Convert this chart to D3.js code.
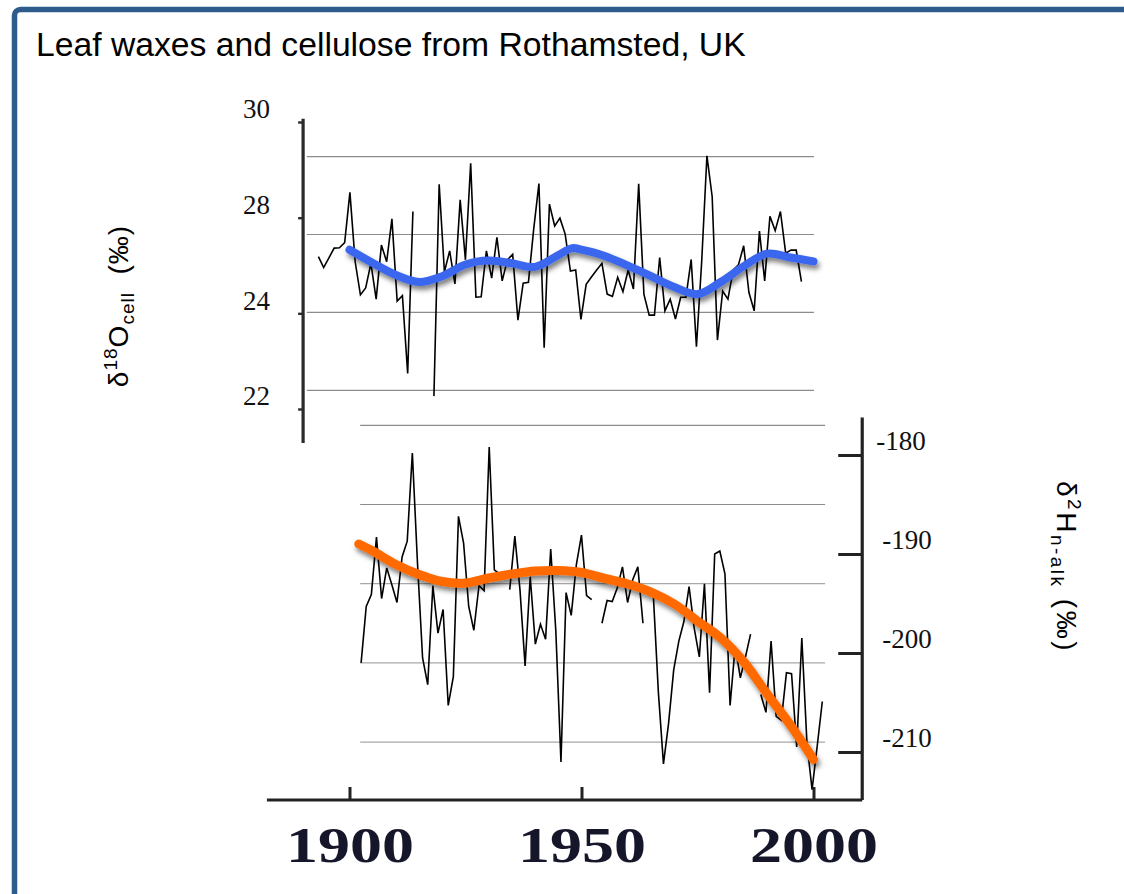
<!DOCTYPE html>
<html>
<head>
<meta charset="utf-8">
<script src="https://cdn.jsdelivr.net/npm/d3@7"></script>
<style>
  html, body { margin: 0; padding: 0; background: #fff; }
  svg { display: block; }
</style>
</head>
<body>
<svg id="chart" width="1124" height="894"></svg>
<script>
// ---- text ----
const titleText = "Leaf waxes and cellulose from Rothamsted, UK";

// ---- axes ----
const yearTicks = [1900, 1950, 2000];
const cellTickLabels = ["30", "28", "24", "22"];
const cellGridValues = [28, 26, 24, 22];
const alkTicks = [-180, -190, -200, -210];
const alkGridValues = [-177, -185, -193, -201, -209];

// ---- δ18O of cellulose (‰), one value per sample, null = no sample ----
const cellSpan = [1893.3, 1997.4];
const cellValues = [
  25.43, 25.15, 25.40, 25.65, 25.66, 25.79, 27.08, 25.30, 24.45, 24.63,
  25.26, 24.34, 25.73, 25.30, 26.40, 24.29, 24.43, 22.43, 26.59, null,
  null, null, 21.85, 27.29, 25.04, 25.58, 24.73, 26.89, 25.35, 27.83,
  24.39, 24.40, 25.58, 24.88, 25.93, 24.81, 25.35, 25.49, 23.80, 24.75,
  24.77, 26.13, 27.31, 23.09, 26.78, 26.22, 26.42, 26.01, 25.06, 25.09,
  23.82, 24.72, 24.91, 25.09, 25.26, 24.47, 24.41, 24.90, 24.53, 25.09,
  24.60, 27.30, 24.46, 23.93, 23.93, 25.41, 24.04, 24.34, 23.83, 24.39,
  24.39, 25.36, 23.12, 25.30, 28.02, 26.97, 23.29, 24.55, 24.34, 25.09,
  25.22, 25.71, 24.51, 24.04, 26.09, 24.81, 26.47, 26.10, 26.59, 25.52,
  25.60, 25.60, 24.79
];
// smoothed δ18O trend
const cellSmoothYears  = [1900, 1905, 1910, 1915, 1920, 1925, 1930, 1935, 1940, 1945, 1948,
                          1950, 1955, 1960, 1965, 1970, 1975, 1980, 1985, 1990, 1995, 2000];
const cellSmoothValues = [25.61, 25.27, 24.96, 24.78, 24.93, 25.23, 25.33, 25.26, 25.17, 25.47, 25.65,
                          25.61, 25.45, 25.20, 24.93, 24.65, 24.47, 24.78, 25.19, 25.51, 25.41, 25.31];

// ---- δ2H of n-alkanes (‰), one value per sample, null = no sample ----
const alkSpan = [1902.5, 2001.9];
const alkValues = [
  -201.0, -195.3, -194.1, -188.3, -194.5, -191.4, -193.1, -194.9, -190.3, -188.7,
  -179.8, -190.9, -200.5, -203.2, -193.2, -198.0, -195.6, -205.3, -202.4, -186.2,
  -188.9, -195.3, -197.7, -193.2, -193.7, -179.2, -191.6, -192.0, null, -193.6,
  -188.2, -193.6, -201.3, -192.3, -199.1, -197.1, -198.6, -189.5, -197.8, -211.0,
  -193.9, -196.2, -191.1, -188.1, -194.2, -194.6, null, -197.0, -194.7, -194.8,
  -193.4, -191.3, -194.9, -192.6, -191.3, -197.0, null, -193.9, -203.9, -211.2,
  -207.1, -201.7, -198.8, -196.8, -193.3, -197.5, -200.4, -193.0, -204.0, -190.0,
  -189.7, -192.0, -205.3, -199.3, -202.5, -200.4, -198.1, null, -204.2, -206.0,
  -198.8, -206.4, -206.8, -202.0, -202.1, -209.5, -198.5, -209.1, -213.8, -209.4,
  -204.9
];
// smoothed δ2H trend
const alkSmoothYears  = [1902, 1905, 1910, 1915, 1920, 1925, 1930, 1935, 1940, 1945, 1950,
                         1955, 1960, 1965, 1970, 1975, 1980, 1985, 1990, 1995, 2000];
const alkSmoothValues = [-188.99, -189.70, -191.06, -192.07, -192.78, -192.93, -192.42, -192.02, -191.72, -191.67, -191.87,
                         -192.47, -193.03, -193.84, -195.05, -196.77, -198.48, -200.91, -204.14, -207.27, -210.76];

// ---- layout extents (in data units) ----
const cellGridSpan = [1890.8, 2000.1];
const cellAxisYear = 1890;
const cellAxisExtent = [28.97, 20.65];
const alkGridSpan = [1902.3, 2002.5];
const timeAxisSpan = [1882.2, 2010.5];
const alkAxisExtent = [-176.2, -214.85];

// ---- scales ----
const x = d3.scaleLinear().domain([1900, 2000]).range([349.5, 813.5]);
const yCell = d3.scaleLinear().domain([28, 22]).range([156.6, 390.3]);
const yCellLabels = d3.scalePoint().domain(cellTickLabels).range([122, 409]);
const yAlk = d3.scaleLinear().domain([-180, -210]).range([455, 752]);
const xCell = d3.scaleLinear().domain([0, cellValues.length - 1]).range(cellSpan.map(x));
const xAlk = d3.scaleLinear().domain([0, alkValues.length - 1]).range(alkSpan.map(x));

const svg = d3.select("#chart");
const sans = "'Liberation Sans', Arial, sans-serif";
const serif = "'Liberation Serif', 'Times New Roman', serif";

const defs = svg.append("defs");
const sh = defs.append("filter").attr("id", "trendShadow")
  .attr("x", "-10%").attr("y", "-40%").attr("width", "120%").attr("height", "200%");
sh.append("feDropShadow").attr("dx", 2).attr("dy", 4).attr("stdDeviation", 2.8)
  .attr("flood-color", "#000").attr("flood-opacity", 0.5);
const soft = defs.append("filter").attr("id", "soft");
soft.append("feGaussianBlur").attr("stdDeviation", 0.6);

// ---- frame ----
svg.append("rect")
  .attr("x", 14.5).attr("y", 9.5).attr("width", 1200).attr("height", 1000)
  .attr("rx", 6).attr("ry", 6)
  .attr("fill", "none").attr("stroke", "#2d5b8c").attr("stroke-width", 5.5);

svg.append("text")
  .attr("x", 36).attr("y", 56)
  .attr("font-family", sans).attr("font-size", 33.7)
  .attr("fill", "#000")
  .text(titleText);

// ---- upper panel: δ18O cellulose ----
const gTop = svg.append("g");
gTop.selectAll("line.grid").data(cellGridValues).join("line")
  .attr("class", "grid")
  .attr("x1", x(cellGridSpan[0])).attr("x2", x(cellGridSpan[1]))
  .attr("y1", d => yCell(d)).attr("y2", d => yCell(d))
  .attr("stroke", "#8c8c8c").attr("stroke-width", 1.2);

// left axis with its own labels
const leftAxisX = x(cellAxisYear);
gTop.append("line")
  .attr("x1", leftAxisX).attr("x2", leftAxisX)
  .attr("y1", yCell(cellAxisExtent[0])).attr("y2", yCell(cellAxisExtent[1]))
  .attr("stroke", "#2a2a2a").attr("stroke-width", 3.2);
const leftAxis = d3.axisLeft(yCellLabels).tickSize(5).tickPadding(0);
const gLeft = gTop.append("g").attr("transform", `translate(${leftAxisX},0)`).call(leftAxis);
gLeft.select(".domain").remove();
gLeft.selectAll(".tick line").attr("stroke", "#2a2a2a").attr("stroke-width", 2.4);
gLeft.selectAll(".tick text")
  .attr("x", 270 - leftAxisX).attr("dy", "-0.15em")
  .attr("font-family", serif).attr("font-size", 27).attr("fill", "#111")
  .attr("text-anchor", "end");

const lineCell = d3.line()
  .defined(d => d != null)
  .x((d, i) => xCell(i))
  .y(d => yCell(d));
gTop.append("path")
  .datum(cellValues)
  .attr("d", lineCell)
  .attr("fill", "none").attr("stroke", "#000").attr("stroke-width", 1.6);

const cellTrend = d3.line()
  .curve(d3.curveCatmullRom.alpha(0.5))
  .x(d => x(d[0])).y(d => yCell(d[1]));
gTop.append("path")
  .datum(cellSmoothYears.map((yr, i) => [yr, cellSmoothValues[i]]))
  .attr("d", cellTrend)
  .attr("fill", "none").attr("stroke", "#3a66ee").attr("stroke-width", 8)
  .attr("stroke-linecap", "round").attr("stroke-linejoin", "round")
  .attr("filter", "url(#trendShadow)");

svg.append("text")
  .attr("transform", "translate(128,306) rotate(-90)")
  .attr("text-anchor", "middle")
  .attr("font-family", sans).attr("font-size", 28).attr("fill", "#000")
  .attr("letter-spacing", 1)
  .style("white-space", "pre")
  .call(t => {
    t.append("tspan").text("δ");
    t.append("tspan").attr("font-size", 19).attr("dy", -11).text("18");
    t.append("tspan").attr("dy", 11).text("O");
    t.append("tspan").attr("font-size", 19).attr("dy", 6).text("cell");
    t.append("tspan").attr("dy", -6).text("  (‰)");
  });

// ---- lower panel: δ2H n-alkanes ----
const gBot = svg.append("g");
gBot.selectAll("line.grid").data(alkGridValues).join("line")
  .attr("class", "grid")
  .attr("x1", x(alkGridSpan[0])).attr("x2", x(alkGridSpan[1]))
  .attr("y1", d => yAlk(d)).attr("y2", d => yAlk(d))
  .attr("stroke", (d, i) => i < 2 ? "#8c8c8c" : "#a8a8a8").attr("stroke-width", 1.2);

const lineAlk = d3.line()
  .defined(d => d != null)
  .x((d, i) => xAlk(i))
  .y(d => yAlk(d));
gBot.append("path")
  .datum(alkValues)
  .attr("d", lineAlk)
  .attr("fill", "none").attr("stroke", "#000").attr("stroke-width", 1.6);

const alkTrend = d3.line()
  .curve(d3.curveCatmullRom.alpha(0.5))
  .x(d => x(d[0])).y(d => yAlk(d[1]));
gBot.append("path")
  .datum(alkSmoothYears.map((yr, i) => [yr, alkSmoothValues[i]]))
  .attr("d", alkTrend)
  .attr("fill", "none").attr("stroke", "#ff6a00").attr("stroke-width", 9)
  .attr("stroke-linecap", "round").attr("stroke-linejoin", "round")
  .attr("filter", "url(#trendShadow)");

// right axis
const rightAxisX = x(timeAxisSpan[1]);
gBot.append("line")
  .attr("x1", rightAxisX).attr("x2", rightAxisX)
  .attr("y1", yAlk(alkAxisExtent[0])).attr("y2", yAlk(alkAxisExtent[1]))
  .attr("stroke", "#222").attr("stroke-width", 3.2);
const rightAxis = d3.axisRight(yAlk).tickValues(alkTicks).tickSize(0).tickFormat(d => String(d));
const gRight = gBot.append("g").attr("transform", `translate(${rightAxisX},0)`).call(rightAxis);
gRight.select(".domain").remove();
gRight.selectAll(".tick").append("line")
  .attr("x1", 0).attr("x2", -24)
  .attr("stroke", "#222").attr("stroke-width", 3);
gRight.selectAll(".tick text")
  .attr("x", (d, i) => i === 0 ? 14 : 20).attr("dy", "-0.2em")
  .attr("font-family", serif).attr("font-size", 27).attr("fill", "#111")
  .attr("text-anchor", "start");

// time axis
const yTime = yAlk(alkAxisExtent[1]);
gBot.append("line")
  .attr("x1", x(timeAxisSpan[0])).attr("x2", x(timeAxisSpan[1]))
  .attr("y1", yTime).attr("y2", yTime)
  .attr("stroke", "#222").attr("stroke-width", 3.2);
const timeAxis = d3.axisBottom(x).tickValues(yearTicks).tickSize(0).tickFormat(d3.format("d"));
const gTime = gBot.append("g").attr("transform", `translate(0,${yTime})`).call(timeAxis);
gTime.select(".domain").remove();
gTime.selectAll(".tick").append("line")
  .attr("y1", 0).attr("y2", -13)
  .attr("stroke", "#222").attr("stroke-width", 3);
gTime.selectAll(".tick text")
  .attr("y", 62).attr("dy", 0)
  .attr("font-family", serif).attr("font-weight", "bold").attr("font-size", 50)
  .attr("fill", "#15152a")
  .attr("textLength", 128).attr("lengthAdjust", "spacingAndGlyphs")
  .attr("filter", "url(#soft)");

svg.append("text")
  .attr("transform", "translate(1057,567) rotate(90)")
  .attr("text-anchor", "middle")
  .attr("font-family", sans).attr("font-size", 28).attr("fill", "#000")
  .attr("letter-spacing", 2.5)
  .style("white-space", "pre")
  .call(t => {
    t.append("tspan").text("δ");
    t.append("tspan").attr("font-size", 19).attr("dy", -11).text("2");
    t.append("tspan").attr("dy", 11).text("H");
    t.append("tspan").attr("font-size", 19).attr("dy", 6).text("n-alk");
    t.append("tspan").attr("dy", -6).text(" (‰)");
  });
</script>
</body>
</html>
